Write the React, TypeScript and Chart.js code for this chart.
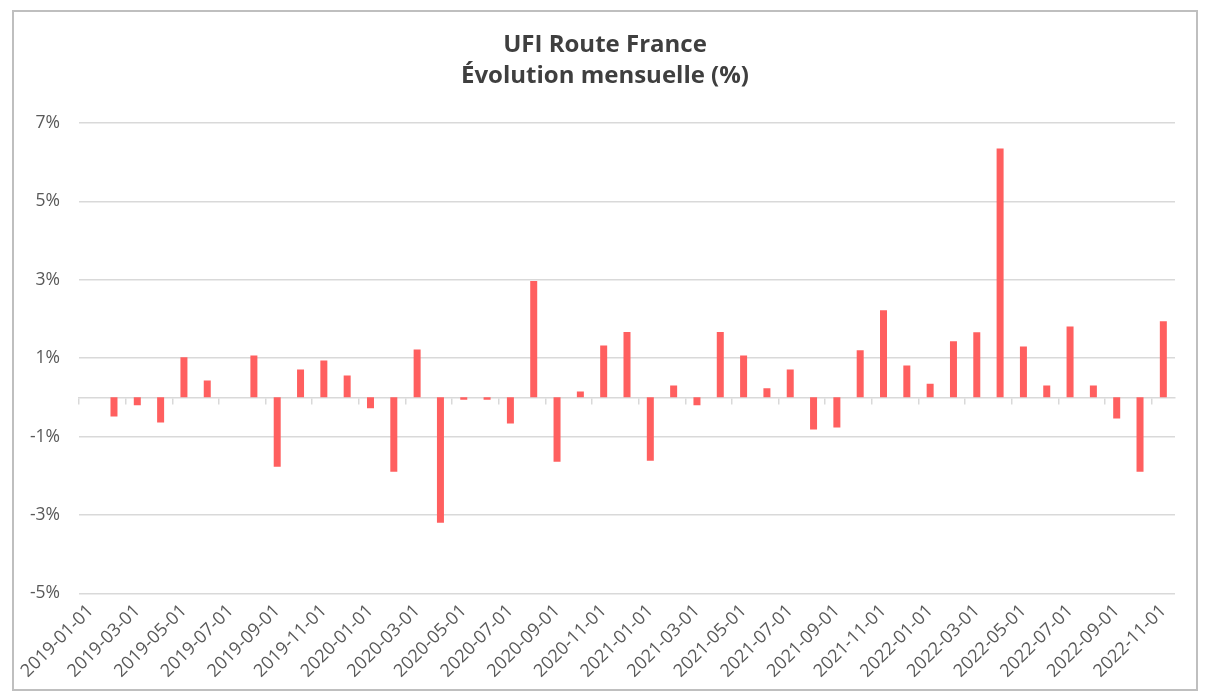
import React, { useEffect, useRef } from "react";
import { Chart, registerables } from "chart.js";

Chart.register(...registerables);

const months: string[] = [
  "2019-01-01", "2019-02-01", "2019-03-01", "2019-04-01", "2019-05-01", "2019-06-01",
  "2019-07-01", "2019-08-01", "2019-09-01", "2019-10-01", "2019-11-01", "2019-12-01",
  "2020-01-01", "2020-02-01", "2020-03-01", "2020-04-01", "2020-05-01", "2020-06-01",
  "2020-07-01", "2020-08-01", "2020-09-01", "2020-10-01", "2020-11-01", "2020-12-01",
  "2021-01-01", "2021-02-01", "2021-03-01", "2021-04-01", "2021-05-01", "2021-06-01",
  "2021-07-01", "2021-08-01", "2021-09-01", "2021-10-01", "2021-11-01", "2021-12-01",
  "2022-01-01", "2022-02-01", "2022-03-01", "2022-04-01", "2022-05-01", "2022-06-01",
  "2022-07-01", "2022-08-01", "2022-09-01", "2022-10-01", "2022-11-01",
];

const monthlyChange: number[] = [
  0, -0.49, -0.2, -0.64, 1.02, 0.43,
  0, 1.07, -1.77, 0.71, 0.94, 0.56,
  -0.28, -1.9, 1.22, -3.2, -0.06, -0.06,
  -0.67, 2.97, -1.64, 0.15, 1.32, 1.67,
  -1.62, 0.3, -0.2, 1.67, 1.07, 0.23,
  0.71, -0.82, -0.77, 1.2, 2.22, 0.81,
  0.35, 1.43, 1.66, 6.35, 1.3, 0.3,
  1.81, 0.3, -0.54, -1.9, 1.94,
];

const titleLines: string[] = ["UFI Route France", "Évolution mensuelle (%)"];
const yMin = -5;
const yMax = 7;
const yStep = 2;

export default function App() {
  const ref = useRef<HTMLCanvasElement | null>(null);

  useEffect(() => {
    if (!ref.current) return;
    const font = "'Open Sans', 'Noto Sans', sans-serif";
    const chart = new Chart(ref.current, {
      type: "bar",
      data: {
        labels: months,
        datasets: [
          {
            label: "UFI Route France",
            data: monthlyChange,
            backgroundColor: "#ff5f5f",
            borderWidth: 0,
            barPercentage: 0.3,
            categoryPercentage: 1,
            xAxisID: "x",
            yAxisID: "y",
          },
        ],
      },
      options: {
        animation: false,
        responsive: false,
        maintainAspectRatio: false,
        layout: { padding: { top: 8, left: 0, right: 0, bottom: 0 } },
        plugins: {
          legend: { display: false },
          tooltip: { enabled: false },
          title: {
            display: true,
            text: titleLines,
            color: "#3f3f3f",
            font: { family: font, size: 24, weight: 700, lineHeight: 31 / 24 },
            padding: { top: 10, bottom: 31 },
          },
        },
        scales: {
          x: {
            type: "category",
            position: "bottom",
            offset: true,
            grid: { display: false, drawTicks: false },
            border: { display: false },
            afterFit: (scale: any) => {
              scale.paddingLeft = 0;
              scale.paddingRight = 0;
            },
            ticks: {
              autoSkip: false,
              minRotation: 45,
              maxRotation: 45,
              padding: 7,
              color: "#595959",
              font: { family: font, size: 18 },
              callback: function (this: any, value: any, index: number) {
                return index % 2 === 0 ? this.getLabelForValue(value) : "";
              },
            },
          },
          x0: {
            type: "category",
            axis: "x",
            position: { y: 0 },
            offset: true,
            grid: {
              offset: true,
              drawOnChartArea: false,
              drawTicks: true,
              tickLength: 6,
              lineWidth: 1.5,
              color: (ctx: any) => (ctx.index % 2 === 0 ? "#d9d9d9" : "rgba(0,0,0,0)"),
            },
            border: { display: true, color: "#d9d9d9", width: 1.5 },
            ticks: { display: false, autoSkip: false },
          },
          y: {
            min: yMin,
            max: yMax,
            grid: { color: "#d9d9d9", lineWidth: 1.5, drawTicks: false },
            border: { display: false },
            afterFit: (scale: any) => {
              scale.width = 65;
            },
            ticks: {
              stepSize: yStep,
              padding: 19,
              color: "#595959",
              font: { family: font, size: 17.5 },
              callback: (v: any) => `${v}%`,
            },
          },
          ySpacer: {
            type: "linear",
            axis: "y",
            position: "right",
            grid: { display: false, drawTicks: false },
            border: { display: false },
            ticks: { display: false },
            afterFit: (scale: any) => {
              scale.width = 21;
            },
          },
        },
      },
    });
    return () => chart.destroy();
  }, []);

  return (
    <div style={{ padding: "2px 0 0 4px" }}>
      <div
        style={{
          width: 1182,
          height: 677,
          border: "2px solid #bfbfbf",
          background: "#fff",
        }}
      >
        <canvas ref={ref} width={1182} height={677} style={{ display: "block" }} />
      </div>
    </div>
  );
}
